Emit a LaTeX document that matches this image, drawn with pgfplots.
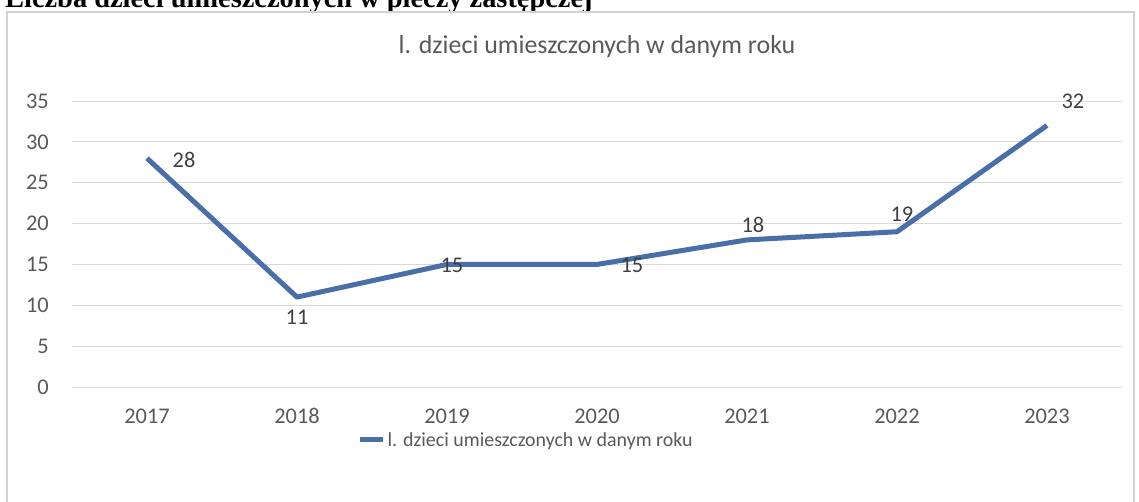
\documentclass[border=0pt]{standalone}
\usepackage{pgfplots}
\pgfplotsset{compat=1.18}
\usepackage{fontspec}
\setmainfont{Carlito}
\newfontfamily\headfont{Liberation Serif}
\definecolor{lineblue}{HTML}{4A6FA8}
\definecolor{txt}{HTML}{595959}
\definecolor{lbl}{HTML}{404040}
\begin{document}
\begin{tikzpicture}
\path[use as bounding box, clip] (0bp,0bp) rectangle (1139bp,-502bp);
\node[anchor=base west, inner sep=0pt, font=\headfont\bfseries\fontsize{28.5}{34}\selectfont] at (5bp,-7bp) {Liczba dzieci umieszczonych w pieczy zastępczej};
\draw[gray!35, line width=1.2bp] (7bp,-520bp) -- (7bp,-12bp) -- (1134bp,-12bp) -- (1134bp,-520bp);
\node[font=\fontsize{26}{30}\selectfont, text=txt] at (597bp,-47bp) {l. dzieci umieszczonych w danym roku};
\begin{axis}[
 at={(72bp,-387bp)}, anchor=south west, scale only axis, width=1050bp, height=286bp,
 xmin=-0.5, xmax=6.5, ymin=0, ymax=35,
 xtick={0,1,2,3,4,5,6}, xticklabels={2017,2018,2019,2020,2021,2022,2023},
 ytick={0,5,...,35},
 ymajorgrids, grid style={gray!30, line width=0.9bp},
 axis line style={draw=none}, major tick length=0pt,
 tick label style={font=\fontsize{22.5}{27}\selectfont, text=txt, inner sep=0pt},
 /pgf/number format/assume math mode=true,
 yticklabel style={xshift=-23bp},
 xticklabel style={anchor=base, yshift=-36bp},
 clip=false,
 legend style={at={(0.4325,-0.185)}, anchor=center, draw=none, fill=none,
   font=\fontsize{20}{24}\selectfont, text=txt, inner sep=0pt},
 legend image code/.code={\draw[#1, line width=5bp] (0bp,0bp) -- (23bp,0bp);},
]
\addplot[lineblue, line width=5bp, mark=none, line join=round,
  nodes near coords, point meta=explicit,
  visualization depends on={\thisrow{dx}\as\dx},
  visualization depends on={\thisrow{dy}\as\dy},
  nodes near coords style={anchor=center, xshift=\dx bp, yshift=\dy bp,
    font=\fontsize{22.5}{27}\selectfont, text=lbl, inner sep=0pt}]
 table[x=x, y=y, meta=y] {
x y dx dy
0 28 37 -2
1 11 0 -20
2 15 5 -1
3 15 35 -1
4 18 6 15
5 19 5 18
6 32 26 24
};
\addlegendentry{l. dzieci umieszczonych w danym roku}
\end{axis}
\end{tikzpicture}
\end{document}
